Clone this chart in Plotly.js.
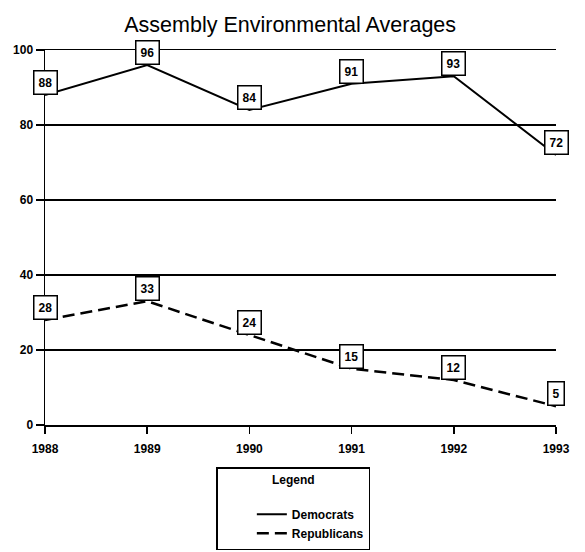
<!DOCTYPE html>
<html>
<head>
<meta charset="utf-8">
<script src="https://cdn.plot.ly/plotly-3.0.1.min.js"></script>
<style>html,body{margin:0;padding:0;background:#fff;}#chart{width:585px;height:552px;}</style>
</head>
<body>
<div id="chart"></div>
<script>
const years = [1988, 1989, 1990, 1991, 1992, 1993];
const democrats = [88, 96, 84, 91, 93, 72];
const republicans = [28, 33, 24, 15, 12, 5];
const yTicks = [0, 20, 40, 60, 80, 100];

const font = {family: 'Liberation Sans, Arial, sans-serif', color: '#000'};

const traces = [
  {x: years, y: democrats, name: 'Democrats', mode: 'lines', legendgroup: 'd',
   line: {color: '#000', width: 2}},
  {x: years, y: republicans, name: 'Republicans', mode: 'lines', legendgroup: 'r',
   line: {color: '#000', width: 2.5, dash: '12px,6px'}}
];

function labels(vals) {
  return years.map((yr, i) => ({
    x: yr, y: vals[i], text: '<b>' + vals[i] + '</b>',
    showarrow: false, xanchor: 'center', yanchor: 'bottom',
    bgcolor: '#fff', bordercolor: '#000', borderwidth: 1.5, borderpad: 4,
    font: Object.assign({}, font, {size: 12})
  }));
}

const layout = {
  width: 585, height: 552,
  margin: {l: 45, r: 29, t: 50, b: 127, autoexpand: false},
  paper_bgcolor: '#fff', plot_bgcolor: '#fff',
  font: font,
  title: {text: 'Assembly Environmental Averages', x: 0.496, xanchor: 'center',
          y: 0.955, yanchor: 'middle',
          font: Object.assign({}, font, {size: 21.5})},
  showlegend: true,
  legend: {
    x: 0.486, xanchor: 'center', y: -0.112, yanchor: 'top',
    bordercolor: '#000', borderwidth: 1.5, bgcolor: '#fff',
    font: Object.assign({}, font, {size: 12, weight: 'bold'}),
    title: {text: '<b>Legend</b><br> ', side: 'top center',
            font: Object.assign({}, font, {size: 12})},
    tracegroupgap: 0, indentation: 34
  },
  xaxis: {
    range: [1988, 1993], tickvals: years, ticktext: years.map(y => '<b>' + y + '</b>'),
    showgrid: false, zeroline: false, showline: true, mirror: true,
    linecolor: '#000', linewidth: 1.5,
    ticks: 'outside', ticklen: 7, tickwidth: 1.5, tickcolor: '#000',
    ticklabelstandoff: 5,
    tickfont: Object.assign({}, font, {size: 12}), fixedrange: true
  },
  yaxis: {
    range: [0, 100], tickvals: yTicks, ticktext: yTicks.map(v => '<b>' + v + '</b>'),
    showgrid: true, gridcolor: '#000', gridwidth: 1.5,
    zeroline: true, zerolinecolor: '#000', zerolinewidth: 1.5,
    showline: true, linecolor: '#000', linewidth: 1.5,
    ticks: 'outside', ticklen: 8, tickwidth: 1.5, tickcolor: '#000',
    tickfont: Object.assign({}, font, {size: 12}), fixedrange: true
  },
  annotations: labels(democrats).concat(labels(republicans))
};

Plotly.newPlot('chart', traces, layout, {staticPlot: true, displayModeBar: false});
</script>
</body>
</html>
